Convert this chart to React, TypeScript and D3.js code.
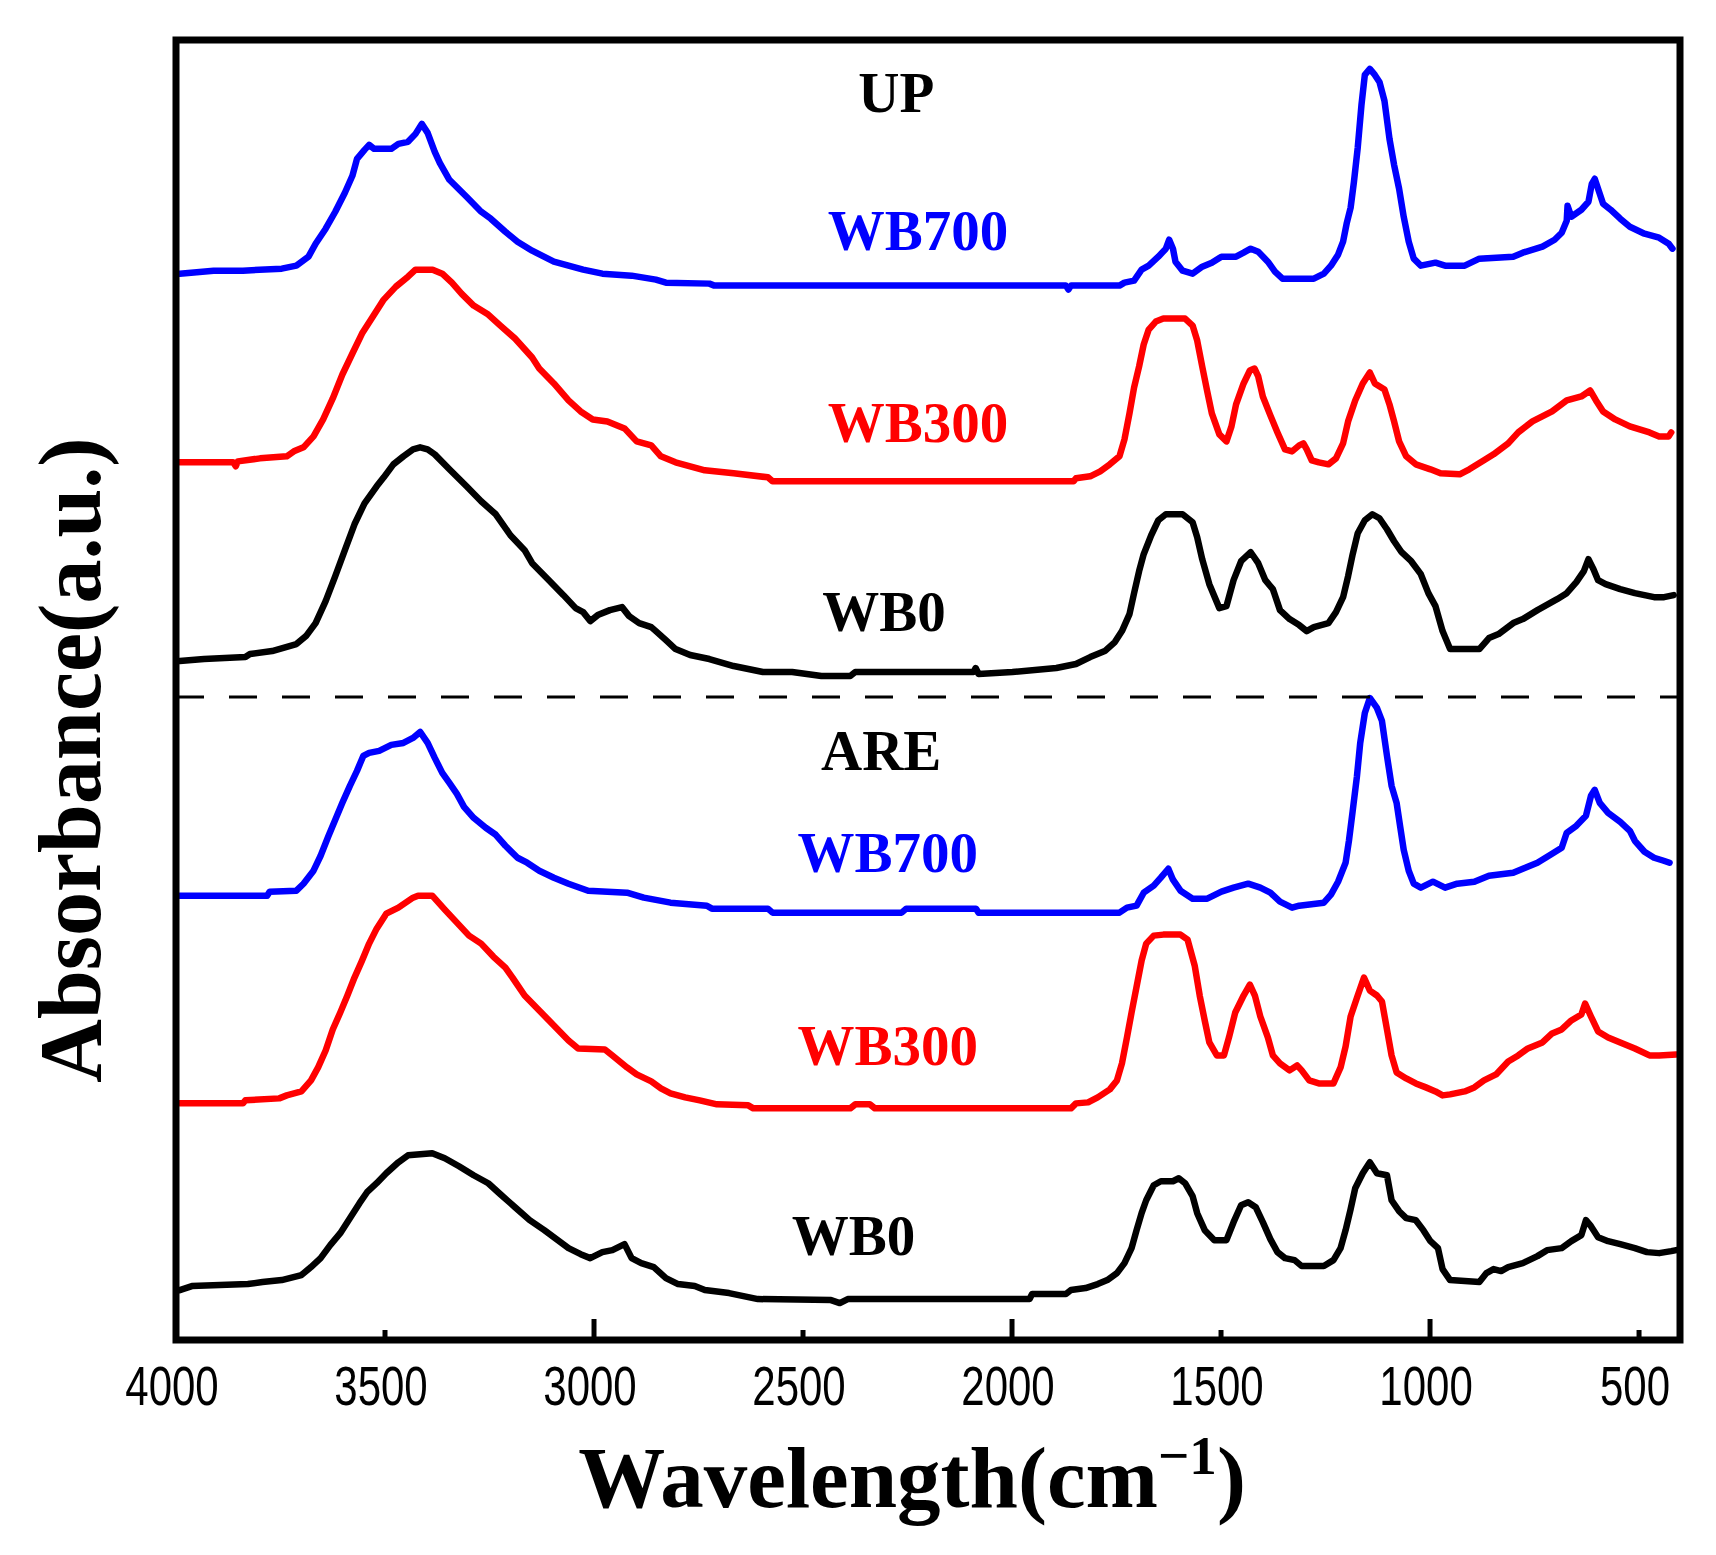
import * as d3 from 'd3';

// FTIR spectra, [wavenumber (cm-1), stacked absorbance (a.u.)]
const upWB700: [number, number][] = [
  [3991,10.66],[3910,10.69],[3840,10.69],[3747,10.71],[3712,10.74],[3683,10.83],[3666,10.96],[3642,11.11],[3619,11.28],[3596,11.47],[3578,11.64],[3567,11.81],[3549,11.90],[3538,11.95],[3526,11.91],[3485,11.91],[3468,11.96],[3445,11.98],[3427,12.06],[3412,12.16],[3398,12.07],[3381,11.88],[3369,11.77],[3346,11.60],[3305,11.43],[3270,11.28],[3247,11.21],[3212,11.08],[3183,10.98],[3148,10.89],[3096,10.78],[3061,10.74],[3026,10.70],[2980,10.66],[2910,10.64],[2852,10.60],[2828,10.57],[2724,10.56],[2712,10.54],[2196,10.54],[1871,10.54],[1865,10.50],[1859,10.54],[1743,10.54],[1731,10.57],[1708,10.59],[1690,10.70],[1673,10.74],[1650,10.83],[1632,10.91],[1624,11.00],[1615,10.91],[1609,10.78],[1592,10.69],[1568,10.66],[1545,10.73],[1522,10.77],[1499,10.83],[1464,10.83],[1446,10.87],[1429,10.91],[1411,10.88],[1388,10.78],[1371,10.68],[1353,10.61],[1278,10.61],[1254,10.66],[1237,10.74],[1220,10.85],[1208,10.98],[1199,11.17],[1190,11.32],[1182,11.58],[1173,11.92],[1164,12.35],[1156,12.65],[1144,12.71],[1132,12.65],[1121,12.58],[1109,12.39],[1097,12.01],[1086,11.75],[1074,11.51],[1063,11.23],[1051,10.98],[1039,10.81],[1022,10.74],[987,10.77],[964,10.74],[917,10.74],[882,10.81],[801,10.83],[778,10.87],[731,10.93],[702,11.00],[685,11.07],[673,11.19],[671,11.34],[662,11.23],[638,11.30],[621,11.38],[613,11.56],[606,11.61],[598,11.51],[586,11.36],[568,11.30],[545,11.21],[522,11.13],[487,11.06],[452,11.02],[429,10.96],[420,10.91],
];

const upWB300: [number, number][] = [
  [3991,8.77],[3863,8.77],[3857,8.73],[3852,8.78],[3799,8.81],[3735,8.83],[3718,8.88],[3695,8.92],[3671,9.03],[3648,9.20],[3625,9.41],[3602,9.65],[3578,9.86],[3555,10.06],[3532,10.21],[3503,10.40],[3474,10.53],[3445,10.63],[3427,10.70],[3386,10.70],[3363,10.66],[3340,10.57],[3317,10.46],[3288,10.34],[3253,10.25],[3224,10.14],[3189,10.01],[3148,9.82],[3131,9.71],[3096,9.56],[3061,9.39],[3032,9.28],[3003,9.20],[2968,9.18],[2927,9.11],[2898,8.98],[2863,8.94],[2840,8.83],[2805,8.77],[2770,8.73],[2735,8.69],[2666,8.66],[2584,8.62],[2573,8.58],[1853,8.58],[1847,8.61],[1813,8.63],[1789,8.68],[1766,8.75],[1743,8.83],[1731,9.00],[1719,9.26],[1708,9.52],[1696,9.73],[1685,9.95],[1673,10.10],[1656,10.18],[1638,10.21],[1586,10.21],[1568,10.14],[1557,9.99],[1545,9.73],[1533,9.48],[1522,9.26],[1504,9.05],[1487,8.98],[1475,9.13],[1464,9.35],[1446,9.56],[1431,9.69],[1420,9.71],[1411,9.63],[1400,9.43],[1382,9.24],[1365,9.07],[1347,8.90],[1330,8.88],[1313,8.94],[1303,8.96],[1295,8.90],[1283,8.79],[1266,8.77],[1243,8.75],[1225,8.81],[1208,8.96],[1196,9.18],[1179,9.39],[1161,9.56],[1144,9.67],[1132,9.56],[1109,9.50],[1097,9.35],[1086,9.18],[1074,8.98],[1057,8.83],[1034,8.75],[999,8.70],[975,8.66],[929,8.65],[906,8.70],[871,8.79],[848,8.85],[813,8.96],[789,9.07],[755,9.18],[708,9.28],[673,9.39],[638,9.43],[617,9.49],[603,9.39],[586,9.28],[557,9.20],[522,9.13],[475,9.07],[452,9.03],[429,9.03],[423,9.07],
];

const upWB0: [number, number][] = [
  [3991,6.78],[3933,6.80],[3834,6.82],[3823,6.85],[3770,6.88],[3712,6.95],[3689,7.03],[3666,7.16],[3642,7.38],[3619,7.63],[3596,7.89],[3573,8.15],[3549,8.36],[3520,8.53],[3503,8.62],[3480,8.75],[3456,8.83],[3433,8.90],[3416,8.92],[3398,8.90],[3381,8.85],[3346,8.70],[3305,8.53],[3270,8.38],[3235,8.25],[3200,8.04],[3166,7.89],[3148,7.76],[3108,7.59],[3073,7.44],[3044,7.31],[3026,7.27],[3009,7.18],[2991,7.24],[2962,7.29],[2933,7.32],[2916,7.23],[2892,7.16],[2863,7.12],[2852,7.08],[2828,6.99],[2805,6.90],[2770,6.84],[2724,6.80],[2666,6.73],[2596,6.67],[2526,6.67],[2456,6.63],[2387,6.63],[2375,6.67],[2092,6.67],[2087,6.71],[2080,6.65],[1999,6.67],[1894,6.71],[1847,6.75],[1813,6.82],[1778,6.88],[1754,6.97],[1737,7.08],[1719,7.25],[1708,7.46],[1696,7.68],[1685,7.85],[1667,8.04],[1650,8.19],[1632,8.25],[1592,8.25],[1568,8.17],[1557,8.02],[1545,7.80],[1528,7.55],[1504,7.31],[1487,7.33],[1470,7.59],[1452,7.78],[1429,7.87],[1411,7.76],[1394,7.59],[1376,7.50],[1359,7.29],[1336,7.20],[1313,7.14],[1295,7.08],[1278,7.12],[1243,7.16],[1225,7.27],[1208,7.42],[1196,7.63],[1185,7.85],[1173,8.06],[1156,8.19],[1138,8.25],[1121,8.21],[1103,8.10],[1086,7.98],[1068,7.87],[1045,7.78],[1022,7.65],[1004,7.46],[987,7.33],[970,7.08],[952,6.90],[882,6.90],[859,7.01],[836,7.05],[801,7.16],[778,7.20],[743,7.29],[696,7.40],[673,7.46],[650,7.57],[632,7.68],[621,7.80],[609,7.70],[598,7.59],[580,7.55],[545,7.50],[510,7.46],[464,7.42],[440,7.42],[417,7.44],
];

const areWB700: [number, number][] = [
  [3991,4.43],[3782,4.43],[3776,4.47],[3712,4.48],[3695,4.55],[3671,4.68],[3654,4.83],[3636,5.02],[3619,5.19],[3602,5.36],[3584,5.53],[3567,5.68],[3552,5.83],[3538,5.86],[3514,5.88],[3485,5.94],[3456,5.96],[3433,6.01],[3416,6.07],[3398,5.96],[3381,5.81],[3363,5.66],[3346,5.56],[3328,5.45],[3311,5.32],[3288,5.21],[3259,5.11],[3235,5.04],[3212,4.93],[3183,4.81],[3160,4.76],[3131,4.68],[3096,4.61],[3061,4.55],[3014,4.48],[2921,4.46],[2881,4.41],[2817,4.36],[2730,4.33],[2718,4.30],[2584,4.30],[2573,4.26],[2264,4.26],[2253,4.30],[2086,4.30],[2080,4.26],[1743,4.26],[1725,4.31],[1702,4.33],[1685,4.46],[1661,4.53],[1644,4.61],[1626,4.70],[1615,4.59],[1597,4.48],[1568,4.40],[1533,4.40],[1499,4.47],[1470,4.51],[1435,4.55],[1406,4.51],[1382,4.46],[1359,4.37],[1330,4.31],[1313,4.33],[1254,4.36],[1237,4.44],[1220,4.57],[1202,4.76],[1194,4.98],[1185,5.28],[1175,5.62],[1167,5.96],[1156,6.26],[1144,6.41],[1127,6.31],[1115,6.18],[1103,5.83],[1092,5.53],[1080,5.36],[1071,5.11],[1063,4.89],[1051,4.68],[1039,4.55],[1022,4.51],[993,4.57],[964,4.51],[935,4.55],[894,4.57],[859,4.63],[801,4.66],[778,4.70],[743,4.76],[708,4.85],[685,4.91],[673,5.06],[650,5.13],[627,5.23],[615,5.43],[606,5.49],[594,5.36],[574,5.26],[545,5.17],[522,5.08],[510,4.98],[487,4.87],[464,4.81],[441,4.78],[427,4.76],
];

const areWB300: [number, number][] = [
  [3991,2.35],[3840,2.35],[3834,2.38],[3753,2.40],[3735,2.43],[3700,2.47],[3677,2.58],[3660,2.71],[3642,2.88],[3625,3.09],[3607,3.26],[3590,3.43],[3573,3.61],[3555,3.78],[3538,3.95],[3520,4.10],[3497,4.25],[3468,4.31],[3433,4.41],[3421,4.43],[3387,4.43],[3357,4.29],[3328,4.16],[3299,4.03],[3270,3.95],[3241,3.82],[3212,3.71],[3195,3.61],[3166,3.43],[3131,3.28],[3096,3.13],[3061,2.98],[3038,2.90],[2974,2.89],[2956,2.83],[2921,2.71],[2898,2.64],[2863,2.57],[2840,2.50],[2817,2.45],[2782,2.41],[2747,2.38],[2706,2.34],[2631,2.33],[2619,2.30],[2387,2.30],[2375,2.34],[2340,2.34],[2328,2.30],[1859,2.30],[1847,2.35],[1818,2.36],[1795,2.41],[1766,2.49],[1749,2.58],[1737,2.75],[1725,3.01],[1714,3.26],[1702,3.52],[1690,3.78],[1679,3.95],[1661,4.03],[1638,4.04],[1597,4.04],[1580,3.99],[1563,3.73],[1551,3.43],[1539,3.18],[1528,2.96],[1510,2.83],[1493,2.83],[1481,3.01],[1466,3.26],[1446,3.43],[1431,3.54],[1419,3.43],[1406,3.22],[1388,3.01],[1376,2.83],[1359,2.75],[1336,2.68],[1318,2.73],[1307,2.68],[1289,2.58],[1266,2.55],[1231,2.55],[1214,2.71],[1202,2.92],[1190,3.22],[1173,3.43],[1158,3.61],[1144,3.48],[1127,3.43],[1115,3.37],[1103,3.09],[1092,2.83],[1080,2.66],[1057,2.60],[1034,2.55],[1010,2.51],[987,2.47],[970,2.43],[952,2.44],[917,2.47],[894,2.51],[871,2.58],[842,2.64],[813,2.77],[789,2.83],[766,2.90],[731,2.96],[708,3.05],[685,3.09],[662,3.18],[638,3.24],[629,3.35],[615,3.22],[598,3.07],[574,3.01],[545,2.96],[510,2.90],[475,2.83],[452,2.83],[411,2.84],
];

const areWB0: [number, number][] = [
  [3991,0.48],[3962,0.52],[3828,0.54],[3793,0.56],[3747,0.58],[3700,0.63],[3677,0.71],[3654,0.80],[3631,0.93],[3607,1.05],[3584,1.20],[3561,1.35],[3543,1.46],[3520,1.55],[3497,1.65],[3468,1.76],[3445,1.83],[3387,1.85],[3357,1.80],[3323,1.72],[3288,1.63],[3253,1.55],[3224,1.44],[3189,1.31],[3154,1.18],[3119,1.08],[3090,0.99],[3061,0.90],[3032,0.84],[3009,0.80],[2980,0.86],[2956,0.88],[2927,0.94],[2910,0.80],[2887,0.75],[2857,0.71],[2828,0.60],[2799,0.54],[2759,0.52],[2735,0.48],[2677,0.45],[2608,0.39],[2433,0.38],[2412,0.35],[2393,0.39],[1958,0.39],[1952,0.44],[1871,0.44],[1859,0.48],[1824,0.50],[1795,0.54],[1772,0.58],[1749,0.65],[1731,0.75],[1714,0.90],[1702,1.08],[1690,1.25],[1679,1.38],[1661,1.53],[1644,1.57],[1615,1.57],[1601,1.60],[1586,1.55],[1568,1.42],[1557,1.25],[1539,1.08],[1516,0.98],[1487,0.98],[1470,1.16],[1452,1.33],[1435,1.36],[1417,1.31],[1400,1.16],[1382,0.99],[1365,0.86],[1347,0.80],[1324,0.78],[1307,0.72],[1254,0.72],[1231,0.78],[1214,0.90],[1202,1.08],[1190,1.29],[1179,1.50],[1161,1.65],[1144,1.76],[1127,1.65],[1103,1.63],[1092,1.38],[1074,1.27],[1057,1.20],[1034,1.18],[1016,1.08],[999,0.97],[981,0.90],[970,0.69],[952,0.58],[882,0.56],[865,0.65],[848,0.69],[830,0.67],[813,0.71],[778,0.75],[743,0.82],[720,0.88],[685,0.90],[662,0.97],[638,1.03],[627,1.18],[615,1.12],[598,1.01],[574,0.97],[545,0.94],[510,0.90],[481,0.86],[452,0.85],[423,0.87],[411,0.88],
];

const majorTicks = [3000, 2000, 1000];
const minorTicks = [3500, 2500, 1500, 500];
const tickLabels = [4000, 3500, 3000, 2500, 2000, 1500, 1000, 500];

// separator between the two sample groups
const separatorValue = 6.42;

// sample labels, placed in data coordinates
const labels = [
  { text: 'UP', x: 2277, y: 12.28, color: '#000000' },
  { text: 'WB700', x: 2225, y: 10.9, color: '#0000ff' },
  { text: 'WB300', x: 2225, y: 8.97, color: '#ff0000' },
  { text: 'WB0', x: 2306, y: 7.08, color: '#000000' },
  { text: 'ARE', x: 2313, y: 5.69, color: '#000000' },
  { text: 'WB700', x: 2297, y: 4.67, color: '#0000ff' },
  { text: 'WB300', x: 2297, y: 2.73, color: '#ff0000' },
  { text: 'WB0', x: 2379, y: 0.83, color: '#000000' },
];

const series = [
  { data: upWB700, color: '#0000ff' },
  { data: upWB300, color: '#ff0000' },
  { data: upWB0, color: '#000000' },
  { data: areWB700, color: '#0000ff' },
  { data: areWB300, color: '#ff0000' },
  { data: areWB0, color: '#000000' },
];

const serif = '"Liberation Serif", "Times New Roman", Times, serif';
const sans = '"Liberation Sans", Arial, sans-serif';

export default function App() {
  const width = 1716;
  const height = 1555;
  const left = 176, right = 1680, top = 40, bottom = 1340;

  const x = d3.scaleLinear().domain([4000, 402]).range([left, right]);
  const y = d3.scaleLinear().domain([-0.02, 13]).range([bottom, top]);

  const line = d3.line<[number, number]>()
    .x(d => x(d[0]))
    .y(d => y(d[1]))
    .curve(d3.curveLinear);

  return (
    <svg width={width} height={height} style={{ position: 'absolute', left: 0, top: 0, background: '#fff' }}>
      <defs>
        <clipPath id="plot">
          <rect x={left} y={top} width={right - left} height={bottom - top} />
        </clipPath>
      </defs>

      <g clipPath="url(#plot)">
        {series.map((s, i) => (
          <path key={i} d={line(s.data) || ''} fill="none" stroke={s.color}
            strokeWidth={6.5} strokeLinejoin="round" strokeLinecap="round" />
        ))}
        <line x1={left} x2={right} y1={y(separatorValue)} y2={y(separatorValue)}
          stroke="#000" strokeWidth={3} strokeDasharray="28 25" />
      </g>

      {labels.map((l, i) => (
        <text key={i} x={x(l.x)} y={y(l.y)} textAnchor="middle" fill={l.color}
          fontFamily={serif} fontWeight="bold" fontSize={57}>{l.text}</text>
      ))}

      {majorTicks.map(t => (
        <line key={'M' + t} x1={x(t)} x2={x(t)} y1={bottom} y2={bottom - 21} stroke="#000" strokeWidth={5} />
      ))}
      {minorTicks.map(t => (
        <line key={'m' + t} x1={x(t)} x2={x(t)} y1={bottom} y2={bottom - 10} stroke="#000" strokeWidth={5} />
      ))}

      <rect x={left} y={top} width={right - left} height={bottom - top} fill="none" stroke="#000" strokeWidth={7} />

      {tickLabels.map(t => (
        <text key={'l' + t} transform={`translate(${x(t) - 4},1405) scale(0.75,1)`} textAnchor="middle"
          fontFamily={sans} fontSize={56} fill="#000">{t}</text>
      ))}

      <text x={912} y={1507} textAnchor="middle" fontFamily={serif} fontWeight="bold" fontSize={87} fill="#000">
        Wavelength(cm<tspan fontSize={55} dy={-33}>−1</tspan><tspan dy={33}>)</tspan>
      </text>

      <text transform="translate(100,760) rotate(-90)" textAnchor="middle" fontFamily={serif}
        fontWeight="bold" fontSize={88} fill="#000">Absorbance(a.u.)</text>
    </svg>
  );
}
